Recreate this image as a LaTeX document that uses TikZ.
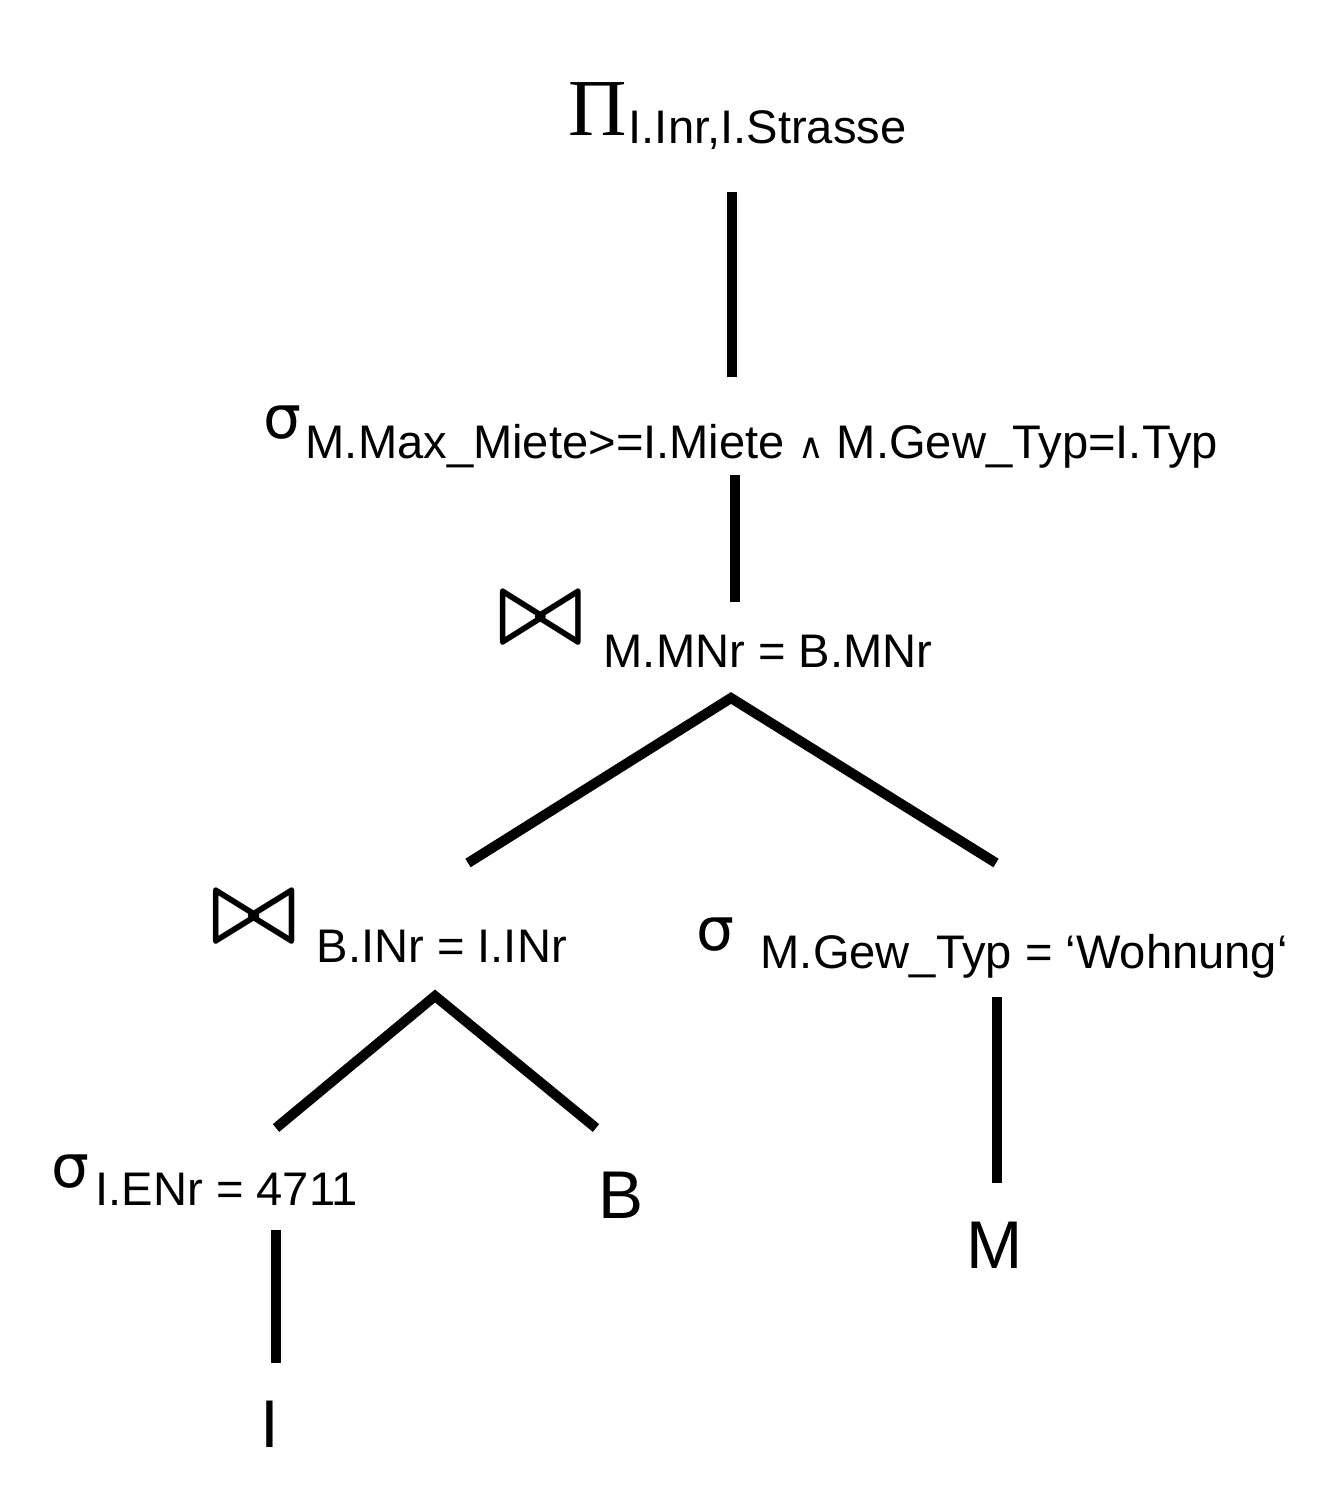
\documentclass[tikz,border=0pt]{standalone}
\usepackage{fontspec}
\setmainfont{Liberation Sans}
\newfontfamily\symfont{Liberation Serif}
\newfontfamily\djvfont{DejaVu Sans}
\usepackage{graphicx}
\usetikzlibrary{positioning}

\begin{document}
\begin{tikzpicture}[x=0.01cm,y=-0.01cm,
  edge/.style={line width=2.85pt},
  lbl/.style={inner sep=0pt,anchor=base west,font=\fontsize{13.4}{14}\selectfont},
  selop/.style={inner sep=0pt,anchor=base west,font=\djvfont\fontsize{17}{18}\selectfont},
  rel/.style={inner sep=0pt,anchor=base west,font=\fontsize{19.2}{20}\selectfont},
  joinop/.style={inner sep=0pt,anchor=west}]
 \useasboundingbox (0,0) rectangle (1332,1506);
 % projection
 \node[inner sep=0pt,anchor=base west,font=\symfont\fontsize{23}{24}\selectfont] (proj) at (568,135) {Π};
 \node[lbl] (projsub) at (628,143) {I.Inr,I.Strasse};
 % selection on top of the joins
 \node[selop] (seltop) at (263,438) {σ};
 \node[lbl] (seltopsub) at (305,458) {M.Max\_Miete>=I.Miete {\djvfont\fontsize{10}{11}\selectfont ∧} M.Gew\_Typ=I.Typ};
 % join M / B
 \node[joinop] (joinmb) at (497,618) {\resizebox*{0.86cm}{0.46cm}{\boldmath$\bowtie$}};
 \node[lbl] (joinmbsub) at (603,667) {M.MNr = B.MNr};
 % join B / I
 \node[joinop] (joinbi) at (210,917) {\resizebox*{0.87cm}{0.46cm}{\boldmath$\bowtie$}};
 \node[lbl] (joinbisub) at (316,962) {B.INr = I.INr};
 % selection on M
 \node[selop] (selm) at (696,950) {σ};
 \node[lbl] (selmsub) at (760,968) {M.Gew\_Typ = ‘Wohnung‘};
 % selection on I
 \node[selop] (seli) at (51,1187) {σ};
 \node[lbl] (selisub) at (95,1205) {I.ENr = 4711};
 % relations
 \node[rel] (relb) at (598,1218) {B};
 \node[rel] (relm) at (966,1268) {M};
 \node[rel] (reli) at (260,1447) {I};

 \coordinate (p1) at (732,192); \coordinate (p2) at (732,377);
 \coordinate (s1) at (735,475); \coordinate (s2) at (735,602);
 \coordinate (j1) at (731,698);
 \coordinate (j1l) at (468,863); \coordinate (j1r) at (996,863);
 \coordinate (j2) at (435,996);
 \coordinate (j2l) at (276,1128); \coordinate (j2r) at (596,1128);
 \coordinate (m1) at (997,997); \coordinate (m2) at (997,1183);
 \coordinate (i1) at (276,1230); \coordinate (i2) at (276,1363);

 \draw[edge] (p1) -- (p2);
 \draw[edge] (s1) -- (s2);
 \draw[edge] (j1l) -- (j1) -- (j1r);
 \draw[edge] (j2l) -- (j2) -- (j2r);
 \draw[edge] (m1) -- (m2);
 \draw[edge] (i1) -- (i2);
\end{tikzpicture}
\end{document}
